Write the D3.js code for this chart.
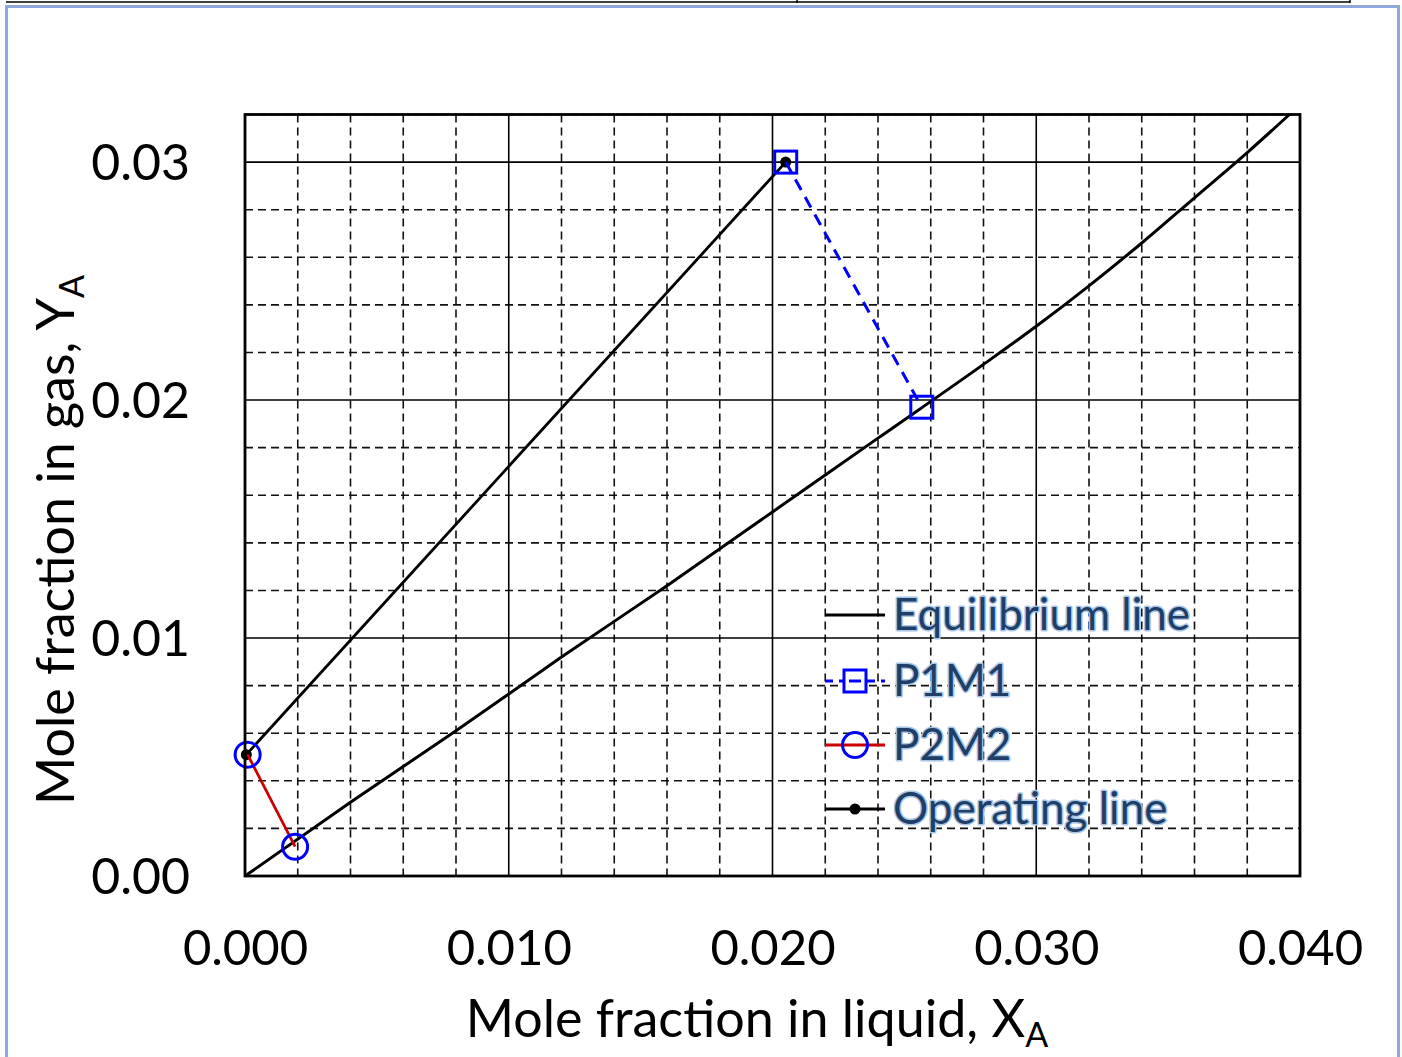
<!DOCTYPE html>
<html>
<head>
<meta charset="utf-8">
<script src="https://cdn.jsdelivr.net/npm/d3@7"></script>
<style>
  html, body { margin: 0; padding: 0; background: #fff; }
  svg { display: block; }
</style>
</head>
<body>
<svg id="chart" width="1402" height="1057"></svg>
<script>
// ---- data ----
const eqX = [0, 0.004, 0.008, 0.012, 0.016, 0.020, 0.024, 0.028, 0.030, 0.032, 0.034, 0.036, 0.038, 0.0396];
const eqY = [0, 0.0031, 0.0061, 0.0092, 0.0122, 0.0153, 0.0184, 0.0215, 0.0231, 0.0248, 0.0266, 0.0285, 0.0304, 0.032];
const opX = [0.00005, 0.0205];
const opY = [0.0051, 0.0300];
const p1m1X = [0.0205, 0.02566];
const p1m1Y = [0.0300, 0.0197];
const p2m2X = [0.0001, 0.0019];
const p2m2Y = [0.0051, 0.00123];
const xTicks = [0, 0.01, 0.02, 0.03, 0.04];
const xTickLabels = ["0.000", "0.010", "0.020", "0.030", "0.040"];
const yTicks = [0, 0.01, 0.02, 0.03];
const yTickLabels = ["0.00", "0.01", "0.02", "0.03"];
const minorStep = 0.002;
const legendLabels = ["Equilibrium line", "P1M1", "P2M2", "Operating line"];

// ---- layout ----
const svg = d3.select("#chart");
const L = 245, R = 1300, T = 114.5, B = 876;
const x = d3.scaleLinear().domain([0, 0.04]).range([L, R]);
const y = d3.scaleLinear().domain([0, 0.032]).range([B, T]);
const font = "Lato, 'Open Sans', sans-serif";

// outer frame (document decorations)
svg.append("line").attr("x1", 6).attr("x2", 1350).attr("y1", 2).attr("y2", 2)
  .attr("stroke", "#000").attr("stroke-width", 1.5);
svg.append("line").attr("x1", 797).attr("x2", 797).attr("y1", 0).attr("y2", 3)
  .attr("stroke", "#000").attr("stroke-width", 1.5);
svg.append("line").attr("x1", 1350).attr("x2", 1350).attr("y1", 0).attr("y2", 3)
  .attr("stroke", "#000").attr("stroke-width", 1.5);
svg.append("path").attr("d", "M6.5,1057 V6.5 H1398.5 V1057")
  .attr("fill", "none").attr("stroke", "#8eaadb").attr("stroke-width", 3);

// ---- grid ----
const g = svg.append("g");
const minorX = d3.range(0, 0.04 + 1e-9, minorStep).filter(v => Math.abs(v / 0.01 - Math.round(v / 0.01)) > 1e-6);
const minorY = d3.range(0, 0.032 + 1e-9, minorStep).filter(v => Math.abs(v / 0.01 - Math.round(v / 0.01)) > 1e-6);
g.selectAll(".mx").data(minorX).join("line")
  .attr("x1", d => x(d)).attr("x2", d => x(d)).attr("y1", T).attr("y2", B)
  .attr("stroke", "#111").attr("stroke-width", 1.6).attr("stroke-dasharray", "8,5");
g.selectAll(".my").data(minorY).join("line")
  .attr("y1", d => y(d)).attr("y2", d => y(d)).attr("x1", L).attr("x2", R)
  .attr("stroke", "#111").attr("stroke-width", 1.6).attr("stroke-dasharray", "8,5");
g.selectAll(".Mx").data(xTicks.slice(1, -1)).join("line")
  .attr("x1", d => x(d)).attr("x2", d => x(d)).attr("y1", T).attr("y2", B)
  .attr("stroke", "#000").attr("stroke-width", 1.6);
g.selectAll(".My").data(yTicks.slice(1)).join("line")
  .attr("y1", d => y(d)).attr("y2", d => y(d)).attr("x1", L).attr("x2", R)
  .attr("stroke", "#000").attr("stroke-width", 1.6);

// ---- axes (labels only) ----
const xAxis = d3.axisBottom(x).tickValues(xTicks).tickSize(0)
  .tickFormat((d, i) => xTickLabels[i]);
const gx = svg.append("g").attr("transform", `translate(0,${B})`).call(xAxis);
gx.select(".domain").remove();
gx.selectAll("text").attr("font-family", font).attr("font-size", 49)
  .attr("fill", "#000").attr("dy", null).attr("y", 89);

const yAxis = d3.axisLeft(y).tickValues(yTicks).tickSize(0)
  .tickFormat((d, i) => yTickLabels[i]);
const gy = svg.append("g").attr("transform", `translate(${L},0)`).call(yAxis);
gy.select(".domain").remove();
gy.selectAll("text").attr("font-family", font).attr("font-size", 50)
  .attr("fill", "#000").attr("x", -55).attr("dy", "0.35em");

// axis titles
const xt = svg.append("text").attr("x", 757).attr("y", 1037)
  .attr("text-anchor", "middle").attr("font-family", font).attr("font-size", 52).attr("fill", "#000");
xt.append("tspan").text("Mole fraction in liquid, X");
xt.append("tspan").attr("font-size", 34).attr("dy", 10).text("A");

const yt = svg.append("text").attr("transform", "translate(74,540) rotate(-90)")
  .attr("text-anchor", "middle").attr("font-family", font).attr("font-size", 52).attr("fill", "#000");
yt.append("tspan").text("Mole fraction in gas, Y");
yt.append("tspan").attr("font-size", 34).attr("dy", 10).text("A");

// ---- series ----
const eqData = eqX.map((v, i) => [v, eqY[i]]);
const opData = opX.map((v, i) => [v, opY[i]]);
const p1Data = p1m1X.map((v, i) => [v, p1m1Y[i]]);
const p2Data = p2m2X.map((v, i) => [v, p2m2Y[i]]);
const smooth = d3.line().x(d => x(d[0])).y(d => y(d[1])).curve(d3.curveMonotoneX);
const line = d3.line().x(d => x(d[0])).y(d => y(d[1]));

svg.append("path").datum(eqData).attr("d", smooth)
  .attr("fill", "none").attr("stroke", "#000").attr("stroke-width", 3);
svg.append("path").datum(opData).attr("d", line)
  .attr("fill", "none").attr("stroke", "#000").attr("stroke-width", 2.8);
svg.selectAll(".opdot").data(opData).join("circle")
  .attr("cx", d => x(d[0])).attr("cy", d => y(d[1])).attr("r", 5.5).attr("fill", "#000");

svg.append("path").datum(p1Data).attr("d", line)
  .attr("fill", "none").attr("stroke", "#0000ff").attr("stroke-width", 3).attr("stroke-dasharray", "12,8");
svg.selectAll(".p1").data(p1Data).join("rect")
  .attr("x", d => x(d[0]) - 11).attr("y", d => y(d[1]) - 11).attr("width", 22).attr("height", 22)
  .attr("fill", "none").attr("stroke", "#0000ff").attr("stroke-width", 3);

svg.append("path").datum(p2Data).attr("d", line)
  .attr("fill", "none").attr("stroke", "#cc0000").attr("stroke-width", 2.8);
svg.selectAll(".p2").data(p2Data).join("circle")
  .attr("cx", d => x(d[0])).attr("cy", d => y(d[1])).attr("r", 12.5)
  .attr("fill", "none").attr("stroke", "#0000ff").attr("stroke-width", 3);

// plot border
svg.append("rect").attr("x", L).attr("y", T).attr("width", R - L).attr("height", B - T)
  .attr("fill", "none").attr("stroke", "#000").attr("stroke-width", 2.8);

// ---- legend ----
const legY = [615, 681, 745, 809];
const lg = svg.append("g");
const lx1 = 825, lx2 = 885, lmid = 855;
lg.append("line").attr("x1", lx1).attr("x2", lx2).attr("y1", legY[0]).attr("y2", legY[0])
  .attr("stroke", "#000").attr("stroke-width", 2.8);
lg.append("line").attr("x1", lx1).attr("x2", lx2).attr("y1", legY[1]).attr("y2", legY[1])
  .attr("stroke", "#0000ff").attr("stroke-width", 3).attr("stroke-dasharray", "8,6");
lg.append("rect").attr("x", lmid - 11).attr("y", legY[1] - 11).attr("width", 22).attr("height", 22)
  .attr("fill", "#fff").attr("stroke", "#0000ff").attr("stroke-width", 3);
lg.append("line").attr("x1", lmid - 6).attr("x2", lmid + 6).attr("y1", legY[1]).attr("y2", legY[1])
  .attr("stroke", "#0000ff").attr("stroke-width", 3);
lg.append("line").attr("x1", lx1).attr("x2", lx2).attr("y1", legY[2]).attr("y2", legY[2])
  .attr("stroke", "#cc0000").attr("stroke-width", 2.8);
lg.append("circle").attr("cx", lmid).attr("cy", legY[2]).attr("r", 12.5)
  .attr("fill", "none").attr("stroke", "#0000ff").attr("stroke-width", 3);
lg.append("line").attr("x1", lx1).attr("x2", lx2).attr("y1", legY[3]).attr("y2", legY[3])
  .attr("stroke", "#000").attr("stroke-width", 2.8);
lg.append("circle").attr("cx", lmid).attr("cy", legY[3]).attr("r", 5.5).attr("fill", "#000");

lg.selectAll(".lt").data(legendLabels).join("text")
  .attr("x", 893).attr("y", (d, i) => legY[i]).attr("dy", "0.35em")
  .attr("font-family", font).attr("font-size", 44)
  .attr("fill", "#1f3f66")
  .attr("stroke", "#a9c6e8").attr("stroke-width", 3).attr("paint-order", "stroke")
  .attr("stroke-linejoin", "round")
  .text(d => d);
</script>
</body>
</html>
